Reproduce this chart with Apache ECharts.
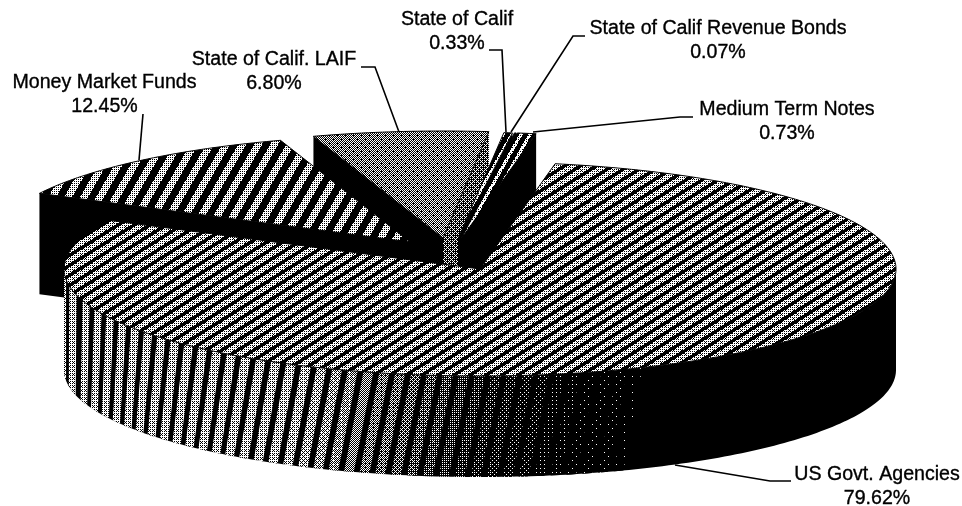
<!DOCTYPE html>
<html><head><meta charset="utf-8">
<style>html,body{margin:0;padding:0;background:#fff}#c{width:962px;height:506px}</style>
<script src="https://cdn.jsdelivr.net/npm/echarts@6/dist/echarts.min.js"></script>
</head><body><div id="c"></div>
<script>
// ---- data (counter-clockwise from the start angle, as Excel laid the pie out)
const categories = ['Medium Term Notes','State of Calif Revenue Bonds','State of Calif','State of Calif. LAIF','Money Market Funds','US Govt. Agencies'];
const values = [0.73, 0.07, 0.33, 6.80, 12.45, 79.62];

// ---- layout
const startAngle = 79.6, RX = 416, RY = 107, DEPTH = 101;
const sliceCentres = [[461,239],[460,239],[458,239],[443,238],[410,242],[480,269]];
const drawOrder = [3,2,1,0,4,5];
const labelPos = [[787,110],[718,29],[457,20],[274,60],[104.5,83],[877,475]];
const leaders = [
  [[693,117],[680,117],[533,132]],
  [[585,36],[573,36],[511,132]],
  [[489,50],[502,50],[506,132]],
  [[361,67],[375,67],[399,132]],
  [[143,114],[139,160]],
  [[791,481],[770,481],[675,465]]
];
const FONT = '19.6px "Liberation Sans", Arial, sans-serif', LINE = 23.5;

// ---- texture tiles
function bayer(n){ if(n===1) return [[0]];
  const h=bayer(n/2),m=[];
  for(let y=0;y<n;y++){m[y]=[];for(let x=0;x<n;x++){
    const q=[[0,2],[3,1]][y<n/2?0:1][x<n/2?0:1];
    m[y][x]=4*h[y%(n/2)][x%(n/2)]+q;}}
  return m;}
const BAYER = bayer(8);
const gcd=(a,b)=>b?gcd(b,a%b):a, lcm=(a,b)=>a*b/gcd(a,b);
const cache = {};
function tile(px,py,stripe,density){
  const key=[px,py,stripe,density].join();
  if(cache[key]) return cache[key];
  const W=px?lcm(px,8):8, H=py?lcm(py,8):8, c=document.createElement('canvas');
  c.width=W;c.height=H;const g=c.getContext('2d'),im=g.createImageData(W,H);
  for(let y=0;y<H;y++)for(let x=0;x<W;x++){
    const s=px?((x/px+y/py)%1):0;
    const on=s<stripe && (BAYER[y%8][x%8]+0.5)/64<density;
    const v=on?255:0,i=(y*W+x)*4;
    im.data[i]=im.data[i+1]=im.data[i+2]=v;im.data[i+3]=255;
  }
  g.putImageData(im,0,0);
  return cache[key]={image:c,repeat:'repeat'};
}
const faceFill = [tile(9,16,.4,.85),tile(9,16,.4,.85),tile(9,16,.4,.85),tile(0,0,1,.47),tile(16,28,.5,.75),tile(16,10,.6,.72)];
const sideFill = ['#000','#000','#000',tile(0,0,1,.34),'#000','#000'];

// ---- pie geometry, from the values
function pt(c,deg,drop){const a=deg*Math.PI/180;return [c[0]+RX*Math.cos(a),c[1]-RY*Math.sin(a)+(drop||0)];}
const total = values.reduce((a,b)=>a+b,0);
const spans = [];
values.reduce((a,v,i)=>{const b=a+v/total*360;spans[i]=[a,b];return b;},startAngle);

function arc(c,a,b,drop){const out=[],n=Math.max(1,Math.ceil(Math.abs(b-a)));
  for(let k=0;k<=n;k++)out.push(pt(c,a+(b-a)*k/n,drop));return out;}
const poly=(points,fill,stroke,lw)=>({type:'polygon',shape:{points},style:{fill,stroke:stroke||null,lineWidth:lw||0}});

function fade(x){
  if(x<=300) return .68;
  if(x<=480) return .68-(x-300)/180*.5;
  if(x<=570) return .18-(x-480)/90*.14;
  if(x<=640) return .04-(x-570)/70*.02;
  return 0;
}
function rim(c){ // front rim of the large slice: black base, then banded shading
  const kids=[poly(arc(c,180,360).concat(arc(c,360,180,DEPTH)),'#000')];
  const LEAN=2.8; let a=180;
  while(a<360){
    const s=Math.abs(Math.sin(a*Math.PI/180)),x=pt(c,a)[0];
    const period=8+8*s;
    const da=period/(RX*Math.max(s,.12))*180/Math.PI;
    const b=Math.min(a+da*.62,360),d=Math.round(fade(x)*64)/64;
    if(d>0){
      const lo=v=>Math.max(180,v-LEAN*Math.min(1,s*1.2));
      kids.push(poly(arc(c,a,b).concat(arc(c,lo(b),lo(a),DEPTH)),tile(0,0,1,d)));
    }
    a+=da;
  }
  return kids;
}
function renderSlice(params,api){
  const i=api.value(0),c=sliceCentres[i],[a,b]=spans[i],kids=[];
  const off=(deg)=>[pt(c,deg),pt(c,deg,DEPTH)];
  // cut walls that face the viewer
  if(i===5){ kids.push(...rim(c)); }
  else{
    const [o1,o1d]=off(a),[o2,o2d]=off(b),cd=[c[0],c[1]+DEPTH];
    if(i===3) kids.push(poly([o2,c,cd,o2d],'#000'));
    if(i===4) kids.push(poly([o2,c,cd,o2d],'#000'));
    if(i!==4) kids.push(poly([o1,c,cd,o1d],sideFill[i]));
  }
  kids.push(poly([c].concat(arc(c,a,b)),faceFill[i],'#000',1));
  return {type:'group',children:kids};
}
function renderLabel(params,api){
  const i=api.value(0),[x,y]=labelPos[i],kids=[];
  const txt=(t,yy)=>({type:'text',style:{text:t,x,y:yy,font:FONT,fill:'#000',stroke:'#000',lineWidth:.35,textAlign:'center',textVerticalAlign:'middle'}});
  kids.push(txt(categories[i],y),txt(values[i].toFixed(2)+'%',y+LINE));
  kids.push({type:'polyline',shape:{points:leaders[i]},style:{stroke:'#000',lineWidth:1.6,fill:null}});
  return {type:'group',children:kids};
}
const chart=echarts.init(document.getElementById('c'),null,{renderer:'canvas'});
chart.setOption({
  animation:false,backgroundColor:'#fff',
  series:[
    {type:'custom',coordinateSystem:'none',silent:true,z:1,renderItem:renderSlice,data:drawOrder.map(i=>[i,values[i]])},
    {type:'custom',coordinateSystem:'none',silent:true,z:2,renderItem:renderLabel,data:values.map((v,i)=>[i,v])}
  ]
});
</script></body></html>
